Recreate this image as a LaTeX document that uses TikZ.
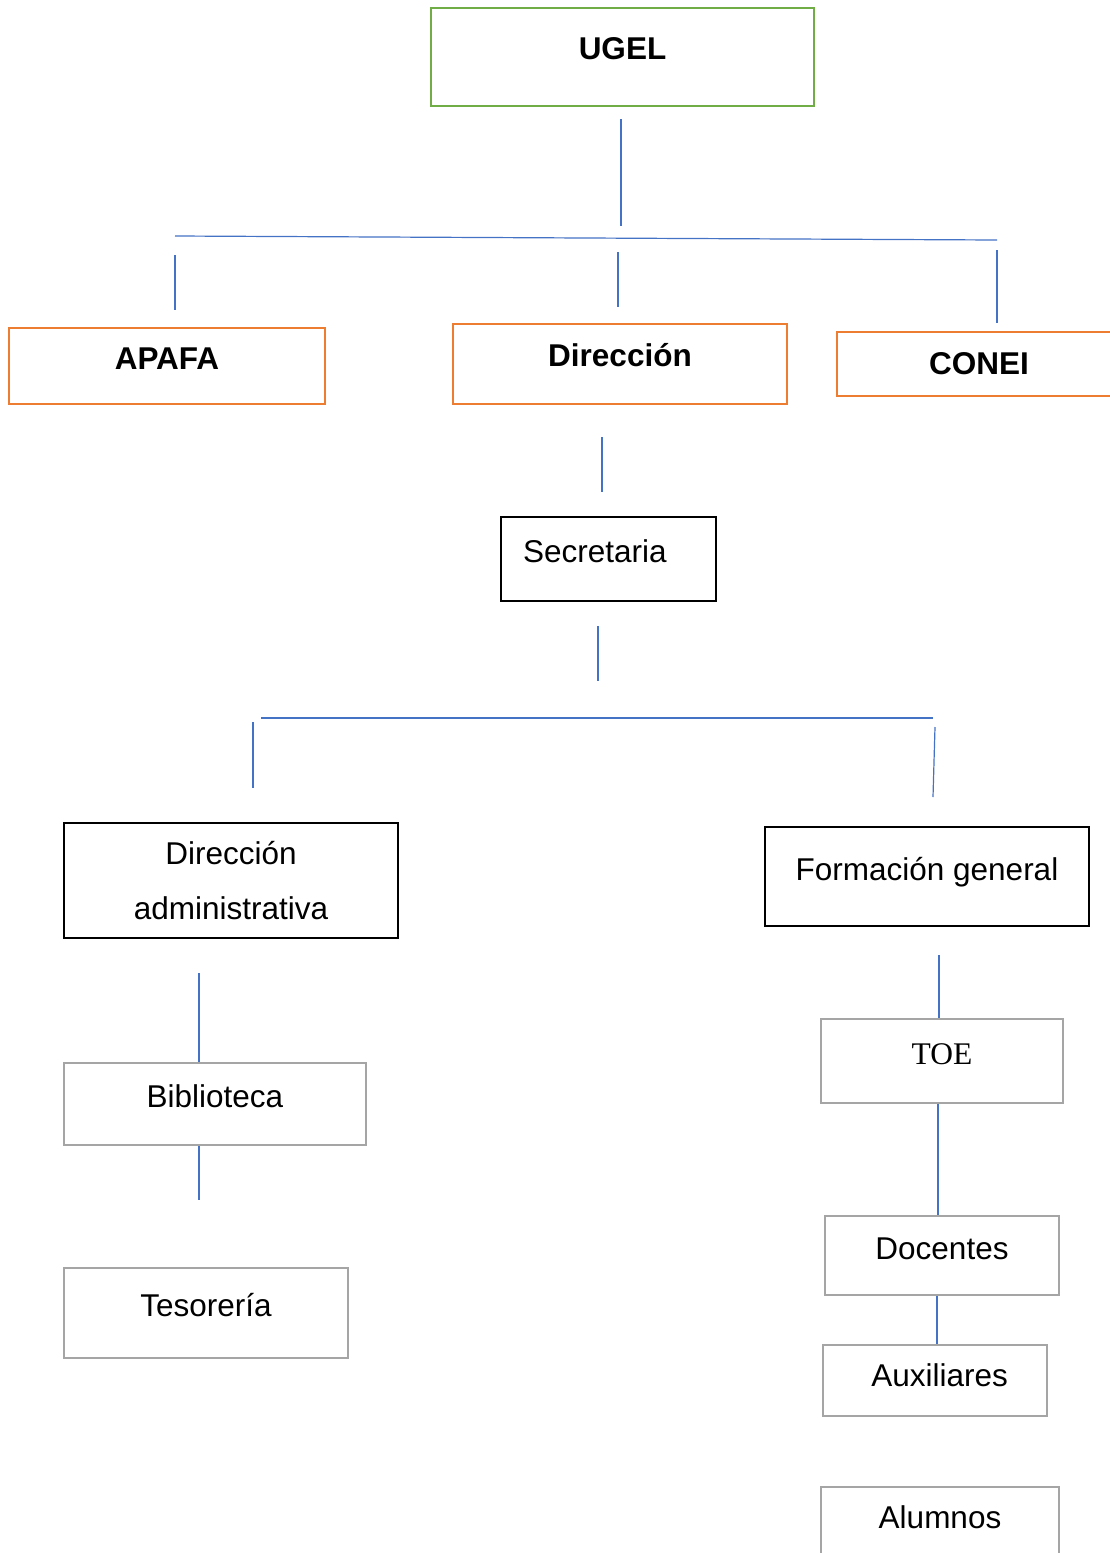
\documentclass[tikz,border=0pt]{standalone}
\usepackage{fontspec}
\setmainfont{Liberation Sans}
\newfontfamily\toefont{Liberation Serif}
\usetikzlibrary{positioning, calc}

\definecolor{ugelgreen}{HTML}{70AD47}
\definecolor{mainorange}{HTML}{ED7D31}
\definecolor{staffgray}{HTML}{A5A5A5}
\definecolor{linkblue}{HTML}{4472C4}

\tikzset{
  box/.style={draw, rectangle, inner sep=0pt, font=\fontsize{31.5}{38}\selectfont},
  onerow/.style={text height=23pt, text depth=16pt},
  ugelbox/.style={box, onerow, draw=ugelgreen, line width=2.6pt, font=\fontsize{31.5}{38}\selectfont\bfseries},
  mainbox/.style={box, onerow, draw=mainorange, line width=2.6pt, font=\fontsize{31.5}{38}\selectfont\bfseries},
  unitbox/.style={box, draw=black, line width=2pt},
  staffbox/.style={box, onerow, draw=staffgray, line width=2.5pt},
  link/.style={draw=linkblue, line width=1.2pt}
}

\begin{document}
\begin{tikzpicture}[x=1pt, y=-1pt]
\useasboundingbox (0,0) rectangle (1110,1553);
\clip (0,0) rectangle (1110,1553);
% Top level
\node[ugelbox, minimum width=383pt, minimum height=98pt, text depth=18pt] (ugel) at (622.5,57) {UGEL};
\node[mainbox, minimum width=316pt, minimum height=76pt] (apafa) at (167,366) {APAFA};
\node[mainbox, minimum width=334pt, minimum height=80pt, text depth=18pt] (direccion) at (620,364) {Dirección};
\node[mainbox, minimum width=284pt, minimum height=64pt, text depth=2pt] (conei) at (979,364) {CONEI};
% Secretaria and the two branches
\node[unitbox, onerow, minimum width=215pt, minimum height=84pt, text width=171pt, align=left] (secretaria) at (608.5,559) {Secretaria};
\node[unitbox, minimum width=334pt, minimum height=115pt, align=center, font=\fontsize{31.5}{55}\selectfont] (diradm) at (231,880.5) {Dirección\\administrativa};
\node[unitbox, onerow, minimum width=324pt, minimum height=99pt] (formacion) at (927,876.5) {Formación general};
% Left branch
\node[staffbox, minimum width=302pt, minimum height=82pt] (biblioteca) at (215,1104) {Biblioteca};
\node[staffbox, minimum width=284pt, minimum height=90pt] (tesoreria) at (206,1313) {Tesorería};
% Right branch
\node[staffbox, minimum width=242pt, minimum height=84pt, font=\fontsize{31.5}{38}\toefont] (toe) at (942,1061) {TOE};
\node[staffbox, minimum width=234pt, minimum height=79pt] (docentes) at (942,1255.5) {Docentes};
\node[staffbox, minimum width=224pt, minimum height=71pt, text depth=12pt, text width=146pt, align=right] (auxiliares) at (935,1380.5) {Auxiliares};
\node[staffbox, minimum width=238pt, minimum height=76pt] (alumnos) at (940,1525) {Alumnos};

% Connector ends
\coordinate (ugelA) at (621,119);
\coordinate (ugelB) at (621,226);
\coordinate (busL) at (175,236);
\coordinate (busR) at (997,240);
\coordinate (dirA) at (602,437);
\coordinate (dirB) at (602,492);
\coordinate (secA) at (598,626);
\coordinate (secB) at (598,681);
\coordinate (bus2L) at (261,718);
\coordinate (bus2R) at (933,718);
\coordinate (formA) at (939,955);
\coordinate (admA) at (199,973);
\coordinate (bibA) at (199,1200);

% Links
\draw[link] (ugelA) -- (ugelB);
\draw[link] (busL) -- (busR);
\draw[link] (175,255) -- (175,310);
\draw[link] (618,252) -- (618,307);
\draw[link] (997,250) -- (997,323);
\draw[link] (dirA) -- (dirB);
\draw[link] (secA) -- (secB);
\draw[link] (bus2L) -- (bus2R);
\draw[link] (253,722) -- (253,788);
\draw[link] (935,727) -- (933,797);
\draw[link] (admA) -- (admA |- biblioteca.north);
\draw[link] (admA |- biblioteca.south) -- (bibA);
\draw[link] (formA) -- (formA |- toe.north);
\draw[link] ([xshift=-4pt]toe.south) -- ([xshift=-4pt]docentes.north);
\draw[link] ([xshift=-5pt]docentes.south) -- ([xshift=2pt]auxiliares.north);
\end{tikzpicture}
\end{document}
